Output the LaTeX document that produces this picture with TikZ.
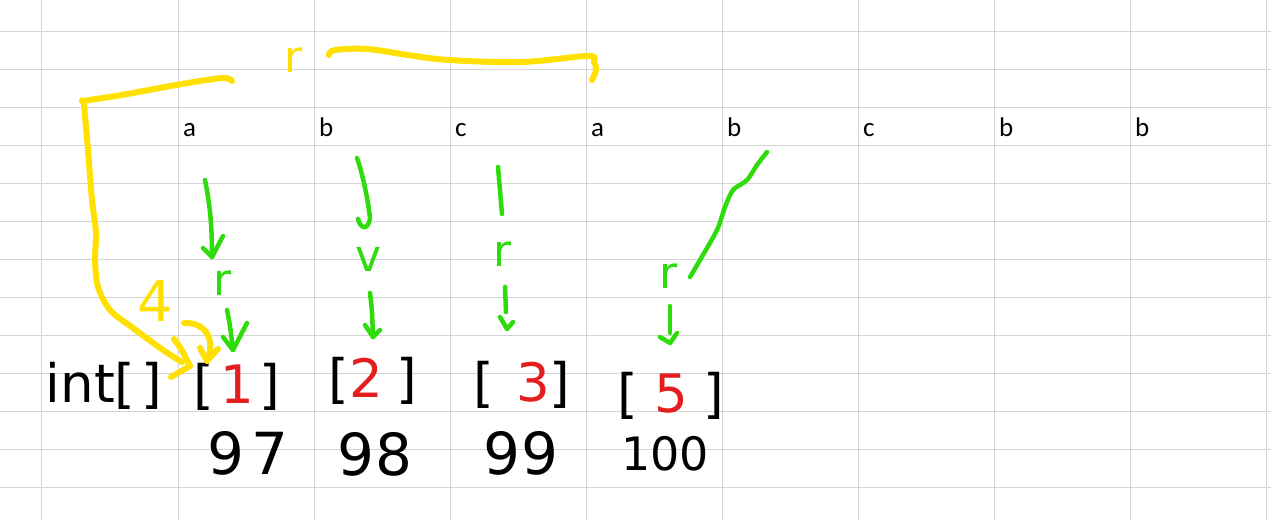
\documentclass[tikz,border=0pt]{standalone}
\usepackage{fontspec}
\setmainfont{DejaVu Sans}
\newfontfamily\calib{Carlito}
\definecolor{gridc}{HTML}{D4D4D4}
\definecolor{hyel}{HTML}{FFE000}
\definecolor{hgrn}{HTML}{2EDC0C}
\definecolor{hred}{HTML}{E41E1E}
\tikzset{
  pen/.style={line width=5pt, line cap=round, line join=round},
  ypen/.style={pen, draw=hyel, line width=6pt},
  gpen/.style={pen, draw=hgrn, line width=4.5pt},
  cell/.style={anchor=base west, inner sep=0pt, font=\calib\fontsize{27}{27}\selectfont},
  hand/.style={inner sep=0pt, font=\fontsize{53}{53}\selectfont},
  num/.style={inner sep=0pt, font=\fontsize{58}{58}\selectfont},
  scribble/.style={inner sep=0pt, font=\fontsize{44}{44}\selectfont},
}
\begin{document}
\begin{tikzpicture}[x=1pt,y=-1pt]
\useasboundingbox (0,0) rectangle (1271,520);
\fill[white] (0,0) rectangle (1271,520);
% grid
\foreach \x in {41,178,314,450,586,722,858,994,1130,1266}
  \draw[gridc, line width=1pt] (\x,0) -- (\x,520);
\foreach \y in {31.5,69.5,107.5,145.5,183.5,221.5,259.5,297.5,335.5,373.5,411.5,449.5,487.5}
  \draw[gridc, line width=1pt] (0,\y) -- (1271,\y);
% cell letters
\node[cell] (c1) at (183,136.7) {a};
\node[cell] (c2) at (319,136.7) {b};
\node[cell] (c3) at (455,136.7) {c};
\node[cell] (c4) at (591,136.7) {a};
\node[cell] (c5) at (727,136.7) {b};
\node[cell] (c6) at (863,136.7) {c};
\node[cell] (c7) at (999,136.7) {b};
\node[cell] (c8) at (1135,136.7) {b};
% handwritten black text
\node[hand] (arr) at (104,386) {int[\hspace{6pt}]};
\node[hand] (e1) at (237,387) {[\hspace{6pt}\textcolor{hred}{1}\hspace{6pt}]};
\node[hand] (e2) at (373,381) {[\textcolor{hred}{2}\hspace{14pt}]};
\node[hand] (e3) at (522,385) {[\hspace{22pt}\textcolor{hred}{3}]};
\node[hand] (e4) at (671,396) {[\hspace{16pt}\textcolor{hred}{5}\hspace{16pt}]};
\node[num] (n1) at (248,453) {9\hspace{8pt}7};
\node[num] (n2) at (375,454) {9\hspace{2pt}8};
\node[num] (n3) at (521,453) {9\hspace{2pt}9};
\node[num, font=\fontsize{46}{46}\selectfont] (n4) at (665,454) {100};
% yellow marks
\node[scribble, text=hyel] (yr) at (294,60) {r};
\node[scribble, text=hyel, font=\fontsize{56}{56}\selectfont] (y4) at (155,301) {4};
% green marks
\node[scribble, text=hgrn] (g1) at (223,283) {r};
\node[scribble, text=hgrn] (g2) at (369,259) {v};
\node[scribble, text=hgrn] (g3) at (503,254) {r};
\node[scribble, text=hgrn] (g4) at (669,276) {r};
% yellow top brace
\draw[ypen] plot[smooth, tension=0.6] coordinates {(329,55) (335,50) (367,49) (408,55) (449,60) (522,62) (588,56) (594,62) (596,70) (592,80)};
% yellow left bracket arrow
\coordinate (yt1) at (190,366);
\draw[ypen] plot[smooth, tension=0.5] coordinates {(232,81) (222,78) (176,85) (122,95) (84,101) (84,104) (88,150) (92,200) (96,233) (95,260) (98,287) (110,310) (133,328) (163,350) (182,362)};
\draw[ypen] (174,339) .. controls (182,350) .. (yt1) -- (171,377);
% small yellow hook arrow
\coordinate (yt2) at (207,361);
\draw[ypen] (184,323) .. controls (206,322) and (216,340) .. (yt2);
\draw[ypen] (200,348) -- (yt2) -- (218,349);
% green column a
\coordinate (ga1) at (212,257);
\draw[gpen] (205,180) .. controls (210,205) and (212,225) .. (ga1);
\draw[gpen] (203,248) -- (ga1) -- (223,236);
\coordinate (ga2) at (233,350);
\draw[gpen] (227,310) .. controls (230,325) .. (ga2);
\draw[gpen] (223,337) -- (ga2) -- (247,323);
% green column b
\draw[gpen] (357,158) .. controls (363,175) and (368,200) .. (370,218) .. controls (368,232) and (360,228) .. (358,219);
\coordinate (gb) at (373,337);
\draw[gpen] (370,293) .. controls (372,310) .. (gb);
\draw[gpen] (365,325) -- (gb) -- (380,330);
% green column c
\draw[gpen] (498,167) -- (502,214);
\coordinate (gc) at (507,329);
\draw[gpen] (505,287) .. controls (506,300) .. (506,312);
\draw[gpen] (500,317) -- (gc) -- (513,322);
% green column 4
\draw[gpen] plot[smooth, tension=0.5] coordinates {(767,152) (757,165) (747,180) (733,190) (725,207) (717,230) (700,260) (690,277)};
\coordinate (gd) at (670,343);
\draw[gpen] (670,306) -- (670,333);
\draw[gpen] (660,337) -- (gd) -- (677,333);
\end{tikzpicture}
\end{document}
